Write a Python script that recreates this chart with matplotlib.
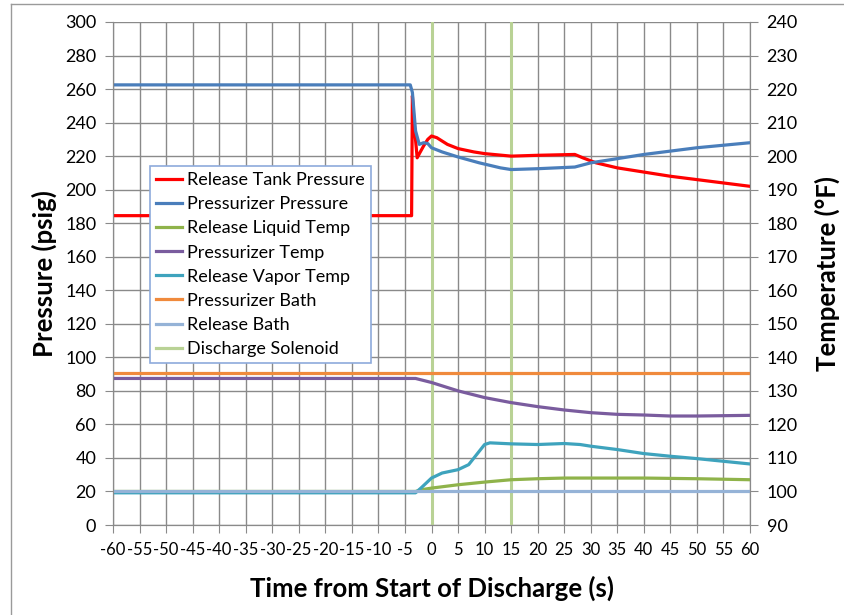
import matplotlib.pyplot as plt
from matplotlib.lines import Line2D

plt.rcParams['font.family'] = ['Lato', 'DejaVu Sans']
plt.rcParams['axes.unicode_minus'] = False

# pressure series (psig, left axis)
t_tank = [-60, -3.75, -3.6, -3.3, -2.7, -2.2, -1.5, -0.7, 0, 1, 3, 5, 8, 10, 15,
          20, 27, 28.5, 31, 35, 40, 45, 50, 55, 60]
p_tank = [184.5, 184.5, 256, 240, 219, 222, 226, 230, 232, 231, 227, 224.5, 222.5,
          221.5, 220, 220.5, 221, 219, 216, 213, 210.5, 208, 206, 204, 202]

t_przr = [-60, -4, -3.6, -3, -2.3, -1.5, -0.7, 0, 2, 5, 9, 13, 15, 20, 27, 30,
          35, 40, 45, 50, 55, 60]
p_przr = [262.5, 262.5, 258, 235, 227, 228, 227.5, 225, 222.5, 219.5, 216, 213,
          212, 212.5, 213.5, 216, 218.5, 221, 223, 225, 226.5, 228]

# temperature series (deg F, right axis)
t_liq = [-60, -3, -2, 0, 5, 10, 15, 20, 25, 30, 40, 50, 60]
f_liq = [100, 100, 100.5, 101, 102, 102.8, 103.5, 103.8, 104, 104, 104, 103.8, 103.5]

t_ptemp = [-60, -3, 0, 5, 10, 15, 20, 25, 30, 35, 40, 45, 50, 60]
f_ptemp = [133.7, 133.7, 132.5, 130, 128, 126.5, 125.3, 124.3, 123.5, 123,
           122.8, 122.5, 122.5, 122.7]

t_vap = [-60, -3, -2, 0, 2, 5, 7, 8.5, 10, 11, 15, 20, 25, 28, 30, 35, 40, 45,
         50, 55, 60]
f_vap = [99.6, 99.6, 101, 104, 105.5, 106.5, 108, 111, 114, 114.5, 114.2, 114,
         114.3, 114, 113.5, 112.5, 111.3, 110.5, 109.8, 109, 108.2]

t_bath = [-60, 60]
f_pbath = [135.2, 135.2]
f_rbath = [100.2, 100.2]

solenoid_times = [0, 15]

fig = plt.figure(figsize=(8.44, 6.15), dpi=100)
ax1 = fig.add_axes([113 / 844, 1 - 525 / 615, 637 / 844, 503 / 615])
ax2 = ax1.twinx()

grid_c = '#8a8a8a'
for t in solenoid_times:
    ax1.axvline(t, color='#b9d295', lw=2.2, zorder=2)

l_tank, = ax1.plot(t_tank, p_tank, color='#ff0000', lw=2.3, zorder=3,
                   label='Release Tank Pressure')
l_przr, = ax1.plot(t_przr, p_przr, color='#4a7ebb', lw=2.3, zorder=4,
                   label='Pressurizer Pressure')

l_liq, = ax2.plot(t_liq, f_liq, color='#8fb34a', lw=2.3, label='Release Liquid Temp')
l_vap, = ax2.plot(t_vap, f_vap, color='#3ea3bd', lw=2.3, label='Release Vapor Temp')
l_rbath, = ax2.plot(t_bath, f_rbath, color='#95b3d7', lw=2.3, label='Release Bath')
l_ptemp, = ax2.plot(t_ptemp, f_ptemp, color='#7a5c9e', lw=2.3, label='Pressurizer Temp')
l_pbath, = ax2.plot(t_bath, f_pbath, color='#f08a3c', lw=2.3, label='Pressurizer Bath')
l_sol = Line2D([], [], color='#b9d295', lw=2.3, label='Discharge Solenoid')

ax1.set_xlim(-60, 60)
ax1.set_ylim(0, 300)
ax2.set_ylim(90, 240)
ax1.set_xticks(range(-60, 61, 5))
ax1.set_yticks(range(0, 301, 20))
ax2.set_yticks(range(90, 241, 10))

ax1.grid(True, color=grid_c, lw=1)
ax1.set_axisbelow(True)
for ax in (ax1, ax2):
    for s in ax.spines.values():
        s.set_color(grid_c)
    ax.spines['top'].set_visible(False)
    ax.tick_params(direction='out', length=6, color=grid_c, labelsize=13,
                   pad=6)
ax1.tick_params(axis='x', labelsize=12, pad=6)

ax1.set_xlabel('Time from Start of Discharge (s)', fontsize=18.5,
               fontweight='bold', labelpad=13)
ax1.set_ylabel('Pressure (psig)', fontsize=18.5, fontweight='bold', labelpad=6)
ax2.set_ylabel('Temperature (°F)', fontsize=18.5, fontweight='bold', labelpad=12)

handles = [l_tank, l_przr, l_liq, l_ptemp, l_vap, l_pbath, l_rbath, l_sol]
leg = ax2.legend(handles=handles, loc='upper left',
                 bbox_to_anchor=(0.058, 0.714), fontsize=13, frameon=True,
                 fancybox=False, edgecolor='#8eaadb', framealpha=1,
                 handlelength=1.4, handletextpad=0.3, labelspacing=0.45,
                 borderpad=0.35, borderaxespad=0)
leg.get_frame().set_linewidth(1.2)

# outer chart border
fig.add_artist(Line2D([10.5 / 844, 10.5 / 844], [0, 1 - 3.5 / 615],
                      transform=fig.transFigure, color='#9a9a9a', lw=1))
fig.add_artist(Line2D([10.5 / 844, 1], [1 - 3.5 / 615, 1 - 3.5 / 615],
                      transform=fig.transFigure, color='#9a9a9a', lw=1))

fig.savefig('out.png', dpi=100)
